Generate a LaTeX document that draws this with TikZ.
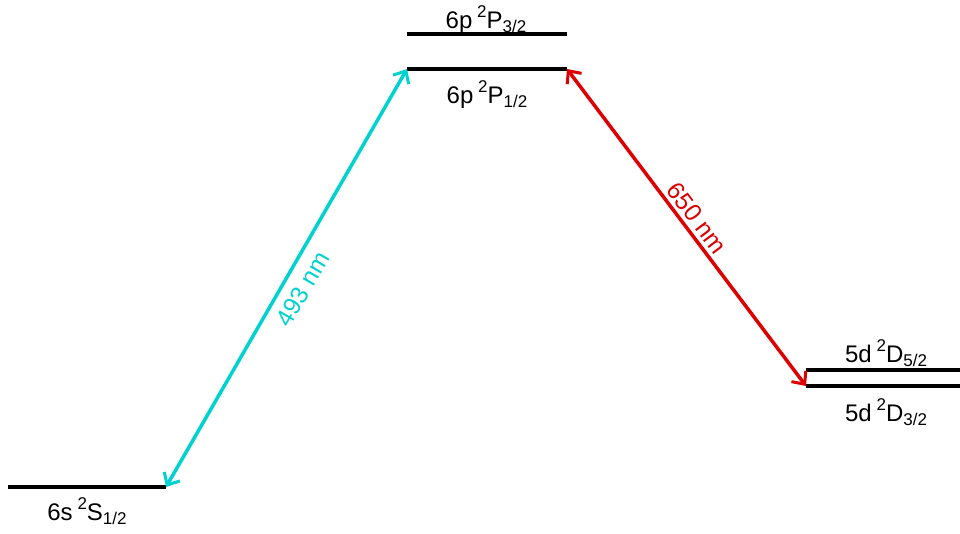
\documentclass[tikz,border=0pt]{standalone}
\usepackage{fontspec}
\setmainfont{Liberation Sans}
\usetikzlibrary{arrows.meta}
\definecolor{cyanline}{RGB}{0,210,208}
\definecolor{redline}{RGB}{220,0,0}
\newcommand{\lvltxt}[3]{#1\hspace{0.2em}\raisebox{0.42em}{\fontsize{17}{17}\selectfont 2}#2\raisebox{-0.17em}{\fontsize{17}{17}\selectfont #3}}
\tikzset{
  level/.style={line width=4.5pt},
  lvllabel/.style={font=\fontsize{24}{24}\selectfont, inner sep=0pt, anchor=base},
  trans/.style={line width=3.5pt, {Straight Barb[length=10pt,width=18pt,line width=3pt]}-{Straight Barb[length=10pt,width=18pt,line width=3pt]}},
  wl/.style={font=\fontsize{24.5}{24.5}\selectfont, inner sep=0pt}
}
\begin{document}
\begin{tikzpicture}[x=1pt,y=-1pt]
\useasboundingbox (0,0) rectangle (960,533);
% level endpoints
\coordinate (sL) at (8,487);  \coordinate (sR) at (166,487);
\coordinate (p1L) at (407,69); \coordinate (p1R) at (567,69);
\coordinate (p3L) at (407,34); \coordinate (p3R) at (567,34);
\coordinate (d5L) at (806,370); \coordinate (d5R) at (960,370);
\coordinate (d3L) at (806,386); \coordinate (d3R) at (960,386);
\draw[level] (sL) -- (sR);
\draw[level] (p1L) -- (p1R);
\draw[level,line width=4pt] (p3L) -- (p3R);
\draw[level] (d5L) -- (d5R);
\draw[level] (d3L) -- (d3R);
% labels
\node[lvllabel] (ls) at (87,520) {\lvltxt{6s}{S}{1/2}};
\node[lvllabel] (lp1) at (487,103) {\lvltxt{6p}{P}{1/2}};
\node[lvllabel] (lp3) at (486,28) {\lvltxt{6p}{P}{3/2}};
\node[lvllabel] (ld5) at (886,362) {\lvltxt{5d}{D}{5/2}};
\node[lvllabel] (ld3) at (886,421) {\lvltxt{5d}{D}{3/2}};
% transitions
\draw[trans,cyanline] (sR) -- (p1L);
\draw[trans,redline] (p1R) -- (d3L);
\node[wl,text=cyanline,rotate=60] (w1) at (303,289) {493 nm};
\node[wl,text=redline,rotate=-53.1] (w2) at (697,218) {650 nm};
\end{tikzpicture}
\end{document}
